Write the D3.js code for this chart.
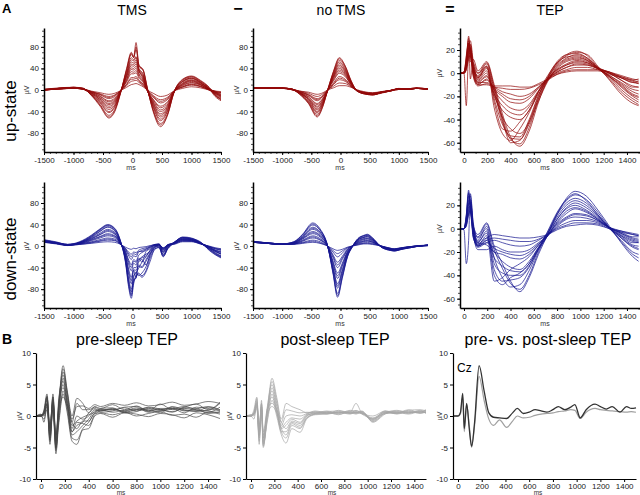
<!DOCTYPE html>
<html><head><meta charset="utf-8">
<script src="https://cdn.jsdelivr.net/npm/d3@7"></script>
<style>body{margin:0;background:#fff}svg{display:block;font-family:"Liberation Sans",Arial,sans-serif}</style>
</head><body><svg id="c" width="640" height="495"></svg>
<script>
// ---------- DATA ----------
// A: up-state, TMS (ms, µV)
const tmsUpTimes = [-1500,-1250,-1000,-850,-700,-550,-400,-300,-200,-100,-20,20,60,110,180,250,350,475,600,700,850,1000,1150,1300,1400,1500];
const tmsUpTraces = [
 [0,3,5,4,-10,-30,-52,-40,-5,40,70,62,88,45,38,5,-40,-68,-45,-5,20,26,18,5,-10,-18],
 [1,4,5,3,-9,-27,-47,-36,-4,36,66,60,75,44,36,3,-36,-62,-42,-6,18,24,16,4,-8,-15],
 [0,3,4,3,-8,-24,-42,-32,-3,32,60,56,62,40,30,2,-32,-57,-38,-4,16,22,15,2,-12,-20],
 [1,3,5,2,-7,-20,-36,-28,-3,28,52,50,56,36,26,1,-28,-50,-34,-4,15,21,14,1,-6,-12],
 [0,2,4,2,-6,-17,-30,-23,-2,24,45,44,48,34,22,0,-24,-44,-30,-5,12,18,12,3,-4,-10],
 [1,3,4,3,-5,-14,-25,-19,-2,19,38,37,40,28,18,-1,-20,-37,-26,-4,10,16,10,0,-7,-14],
 [0,2,3,2,-4,-11,-20,-15,-1,15,30,30,32,22,14,-1,-17,-30,-21,-3,8,13,9,1,-3,-8],
 [0,2,4,2,-3,-9,-16,-12,-1,11,23,23,25,18,11,-1,-13,-24,-17,-3,6,11,7,0,-4,-6],
 [1,2,3,2,-3,-7,-12,-9,-1,8,16,17,18,14,8,0,-10,-18,-13,-2,5,9,6,1,-2,-5],
 [0,2,3,2,-2,-5,-8,-6,-1,5,10,11,12,10,6,0,-6,-12,-9,-2,3,6,4,0,-2,-3],
 [0,3,4,3,-9,-28,-50,-38,-4,38,68,60,80,46,37,4,-38,-65,-44,-5,19,25,17,4,-9,-17],
 [1,3,5,3,-8,-22,-40,-30,-3,30,56,54,60,38,28,1,-30,-54,-36,-4,16,22,14,2,-10,-17],
 [0,2,4,2,-6,-18,-33,-25,-2,26,48,47,52,35,24,0,-26,-47,-32,-5,13,19,13,2,-5,-11],
 [1,3,4,2,-5,-15,-27,-21,-2,21,41,40,44,30,20,-1,-22,-40,-28,-4,11,17,11,1,-6,-12],
 [0,2,3,2,-4,-12,-22,-17,-1,17,34,33,36,25,16,-1,-18,-33,-23,-3,9,14,10,1,-4,-9],
 [0,2,3,2,-3,-8,-14,-10,-1,10,20,20,22,16,10,0,-12,-21,-15,-2,6,10,7,0,-3,-5]
];
// A: up-state, no TMS
const noTmsUpTimes = [-1500,-1250,-1000,-850,-700,-550,-400,-300,-220,-120,-20,80,180,270,400,550,700,850,1000,1150,1300,1500];
const noTmsUpTraces = [
 [3,4,3,2,-8,-25,-50,-30,0,35,60,45,18,0,-7,-9,-5,-2,2,1,3,1],
 [4,3,4,2,-7,-23,-45,-27,0,32,55,42,16,0,-6,-8,-5,-1,3,2,4,2],
 [3,3,3,1,-6,-20,-40,-24,-1,28,49,37,14,-1,-7,-9,-6,-2,2,2,3,1],
 [3,4,4,2,-5,-17,-35,-21,-1,25,43,33,13,0,-6,-8,-4,-1,2,1,3,2],
 [4,3,3,2,-5,-15,-30,-18,-1,21,37,29,11,0,-5,-8,-5,-2,1,2,4,1],
 [3,3,3,1,-4,-12,-25,-15,0,17,31,25,10,0,-6,-7,-4,-1,2,1,3,2],
 [3,4,3,2,-3,-10,-20,-12,-1,13,25,20,8,-1,-5,-7,-4,-2,2,2,3,1],
 [4,3,4,2,-3,-8,-16,-10,0,10,19,16,7,0,-5,-6,-4,-1,1,1,3,2],
 [3,3,3,1,-2,-6,-12,-7,0,7,13,12,6,0,-4,-6,-3,-1,2,2,3,1],
 [3,3,3,2,-2,-4,-8,-5,0,4,8,8,5,1,-3,-5,-3,-1,2,1,3,1],
 [4,4,3,2,-8,-24,-48,-29,0,34,58,44,17,0,-7,-9,-5,-2,2,1,3,1],
 [3,3,4,2,-6,-21,-42,-25,-1,30,52,39,15,0,-6,-8,-5,-1,2,2,4,2],
 [4,3,3,1,-5,-18,-37,-22,0,26,46,35,14,-1,-6,-9,-5,-2,2,1,3,1],
 [3,4,3,2,-5,-16,-32,-19,-1,23,40,31,12,0,-5,-8,-4,-1,1,2,3,2],
 [3,3,3,2,-4,-13,-27,-16,0,19,34,27,10,0,-5,-7,-4,-1,2,1,3,1],
 [4,3,4,1,-3,-9,-18,-11,0,11,22,18,8,0,-4,-6,-4,-1,2,2,3,2]
];
// A: up-state, TEP
const tepUpTimes = [-30,0,20,40,55,80,120,195,260,330,400,480,560,640,720,800,880,970,1060,1150,1250,1350,1450,1500];
const tepUpTraces = [
 [0,0,15,28,-5,12,2,10,-10,-35,-55,-63,-50,-25,-5,8,15,18,16,6,-6,-18,-26,-28],
 [0,1,10,32,20,5,-2,8,-14,-40,-60,-58,-42,-20,-3,10,16,17,13,4,-4,-14,-22,-25],
 [0,0,12,22,25,8,0,6,-30,-52,-58,-48,-34,-16,-2,9,14,15,12,5,-3,-10,-18,-20],
 [0,0,-28,20,28,10,-4,4,-18,-38,-48,-52,-42,-22,-6,6,12,14,11,4,-2,-8,-14,-15],
 [0,1,8,25,22,4,-5,2,-25,-48,-50,-42,-32,-18,-6,4,10,12,10,5,0,-6,-12,-12],
 [0,0,5,18,20,6,-6,0,-20,-32,-38,-40,-32,-16,-5,3,8,11,9,4,-2,-9,-16,-18],
 [0,0,10,30,15,3,-8,-3,-15,-24,-30,-32,-27,-15,-4,3,7,9,8,4,0,-4,-8,-7],
 [0,1,6,20,24,2,-10,-5,-14,-20,-25,-26,-22,-13,-5,1,5,7,7,4,1,-3,-6,-5],
 [0,0,4,15,18,0,-8,-8,-12,-16,-18,-20,-18,-12,-5,0,3,5,5,3,1,-2,-5,-6],
 [0,0,3,12,16,-2,-10,-10,-12,-13,-14,-14,-13,-10,-6,-1,2,3,3,3,0,-3,-6,-8],
 [0,0,14,26,10,9,0,9,-12,-38,-57,-61,-47,-22,-4,9,16,19,15,5,-5,-16,-24,-27],
 [0,1,9,24,20,6,-3,5,-22,-44,-54,-55,-40,-19,-4,7,13,16,13,5,-3,-12,-20,-23],
 [0,0,7,22,18,2,-7,-2,-18,-28,-34,-36,-29,-16,-5,2,7,10,9,4,0,-6,-11,-12],
 [0,0,5,17,22,-1,-9,-6,-13,-18,-22,-23,-20,-12,-5,1,5,8,7,4,1,-4,-8,-9],
 [0,0,3,14,15,-3,-11,-9,-11,-11,-11,-12,-12,-9,-5,-1,1,2,2,2,-1,-4,-7,-9],
 [0,1,8,26,17,4,-4,6,-16,-42,-56,-57,-44,-24,-7,5,11,13,11,4,-3,-11,-19,-21]
];
// A: down-state, TMS
const tmsDownTimes = [-1500,-1300,-1100,-900,-700,-550,-420,-300,-200,-120,-60,-20,20,60,100,160,230,300,380,450,520,600,700,850,1000,1150,1300,1400,1500];
const tmsDownTraces = [
 [12,8,3,8,20,32,40,33,8,-30,-80,-97,-70,-55,-52,-58,-48,-28,-5,-3,-18,-5,5,16,14,8,-8,-16,-22],
 [10,6,2,7,18,30,38,31,7,-26,-72,-90,-62,-60,-35,-38,-25,-12,0,-2,-20,-3,6,17,15,6,-6,-14,-20],
 [9,6,2,6,16,27,35,28,6,-22,-64,-80,-55,-50,-42,-30,-20,-8,2,0,-15,-2,7,15,13,7,-5,-12,-18],
 [11,7,3,6,15,24,31,25,5,-18,-55,-70,-45,-58,-30,-25,-35,-15,-2,2,-12,0,6,14,12,5,-4,-10,-15],
 [8,5,1,5,13,21,27,22,5,-15,-45,-58,-40,-40,-28,-20,-15,-10,0,3,-10,1,5,13,12,6,-3,-9,-14],
 [10,6,3,5,12,18,23,19,4,-12,-36,-46,-32,-35,-22,-30,-10,-5,3,3,-8,2,6,12,11,6,-2,-8,-12],
 [7,5,2,4,10,15,19,16,4,-9,-27,-35,-25,-28,-18,-12,-8,-3,2,4,-6,2,5,11,10,5,-2,-7,-10],
 [9,6,2,4,8,12,15,13,4,-6,-19,-25,-18,-20,-12,-8,-5,-1,3,4,-5,3,5,10,10,5,-1,-5,-8],
 [8,5,2,3,6,9,11,10,3,-4,-12,-15,-11,-12,-8,-5,-3,0,3,3,-4,2,4,9,9,4,-1,-4,-6],
 [7,4,1,3,5,7,8,7,3,-2,-5,-6,-4,-5,-3,-2,-1,1,2,2,-3,2,3,8,8,4,0,-3,-5],
 [11,7,3,7,19,31,39,32,8,-28,-76,-93,-66,-58,-50,-55,-45,-22,-6,-2,-19,-4,6,16,14,7,-7,-15,-21],
 [9,6,2,6,17,28,36,29,7,-24,-68,-85,-58,-48,-55,-50,-38,-18,-3,0,-16,-3,6,15,13,6,-5,-13,-19],
 [10,6,3,6,14,22,29,23,5,-17,-50,-64,-44,-45,-38,-40,-28,-14,-2,2,-11,0,5,13,12,6,-4,-10,-15],
 [8,5,2,5,11,17,21,18,4,-10,-31,-40,-28,-30,-25,-22,-18,-8,1,3,-7,1,5,12,11,5,-2,-8,-11],
 [9,5,2,4,7,10,13,11,3,-5,-15,-20,-14,-16,-10,-10,-6,-2,2,3,-4,2,4,10,9,5,-1,-5,-7]
];
// A: down-state, no TMS
const noTmsDownTimes = [-1500,-1250,-1000,-800,-650,-475,-350,-220,-130,-50,30,120,200,300,400,460,550,700,850,920,1050,1200,1350,1500];
const noTmsDownTraces = [
 [8,6,4,8,22,43,32,0,-50,-95,-60,-20,-2,14,20,22,15,-2,-8,-9,-6,-3,0,1],
 [7,5,3,7,20,39,29,0,-46,-88,-55,-18,-1,13,19,20,14,-2,-7,-9,-6,-2,0,2],
 [9,6,4,7,18,35,26,-1,-42,-78,-50,-16,-2,12,17,19,13,-1,-7,-8,-5,-3,0,1],
 [7,5,3,6,16,31,23,0,-37,-70,-44,-14,-1,11,16,17,12,-1,-6,-8,-5,-2,0,2],
 [8,6,4,6,15,27,20,-1,-32,-60,-38,-12,-1,10,14,15,11,-2,-6,-7,-5,-2,0,1],
 [7,5,3,5,13,23,17,0,-27,-50,-32,-10,-1,8,12,13,9,-1,-6,-7,-4,-1,1,2],
 [8,6,4,5,11,19,14,0,-21,-40,-25,-8,0,7,10,11,8,-1,-5,-7,-4,-2,0,1],
 [7,5,3,4,9,15,11,0,-16,-30,-19,-6,0,5,8,9,7,0,-5,-6,-4,-1,0,2],
 [8,5,3,4,7,11,8,0,-11,-20,-13,-4,0,4,6,7,5,0,-4,-6,-3,-1,1,1],
 [7,5,3,3,5,7,5,0,-5,-8,-6,-2,0,2,4,4,3,0,-4,-5,-3,-1,0,2],
 [8,6,4,8,21,41,30,0,-48,-92,-58,-19,-2,14,19,21,15,-2,-8,-9,-6,-3,0,1],
 [7,5,3,6,17,33,25,0,-40,-74,-47,-15,-1,12,16,18,12,-1,-7,-8,-5,-2,0,2],
 [8,6,4,5,14,25,19,0,-30,-55,-35,-11,-1,9,13,14,10,-1,-6,-7,-5,-2,1,1],
 [7,5,3,4,10,17,12,0,-18,-35,-22,-7,0,6,9,10,7,0,-5,-6,-4,-1,0,2],
 [8,5,3,4,6,9,6,0,-8,-14,-9,-3,0,3,5,5,4,0,-4,-5,-3,-1,0,1]
];
// A: down-state, TEP
const tepDownTimes = [-30,0,20,40,55,80,120,195,260,330,400,480,560,640,720,800,880,955,1050,1150,1250,1350,1450,1500];
const tepDownTraces = [
 [0,0,10,30,20,2,-5,5,-15,-30,-45,-54,-42,-22,-5,12,26,32,28,16,2,-12,-24,-28],
 [0,0,12,33,18,0,-10,2,-25,-42,-50,-48,-36,-18,-2,14,25,30,24,12,0,-10,-20,-22],
 [0,0,8,25,28,3,-12,-2,-40,-48,-42,-38,-30,-16,-3,12,22,26,22,12,1,-8,-16,-18],
 [0,-1,-30,-10,30,5,-8,0,-30,-38,-40,-40,-32,-18,-6,8,18,22,18,10,0,-7,-14,-15],
 [0,0,6,22,25,0,-14,-6,-45,-42,-35,-30,-24,-14,-4,8,17,20,16,9,1,-6,-12,-12],
 [0,0,5,20,22,-2,-15,-10,-20,-28,-33,-35,-28,-16,-6,5,13,17,14,8,1,-5,-10,-11],
 [0,0,9,28,15,-4,-12,-14,-20,-22,-25,-26,-22,-14,-5,4,10,13,12,7,1,-4,-8,-9],
 [0,0,4,16,20,-5,-18,-18,-15,-18,-20,-20,-18,-12,-6,2,8,10,9,6,1,-3,-7,-7],
 [0,0,3,14,18,-6,-16,-12,-10,-12,-14,-15,-14,-10,-5,1,5,7,7,5,1,-2,-5,-6],
 [0,0,2,12,15,-8,-14,-8,-5,-6,-7,-8,-8,-7,-5,-1,2,3,4,3,0,-2,-4,-5],
 [0,0,11,31,19,1,-7,4,-18,-34,-47,-52,-40,-20,-4,13,24,29,25,14,1,-11,-22,-25],
 [0,0,7,24,24,2,-11,-4,-35,-45,-44,-42,-33,-17,-4,10,20,24,20,11,1,-8,-15,-17],
 [0,0,6,21,23,-1,-13,-8,-25,-32,-36,-37,-30,-17,-6,6,15,18,15,8,0,-6,-11,-12],
 [0,0,5,18,19,-4,-15,-12,-17,-20,-22,-23,-20,-13,-6,3,9,12,11,7,1,-4,-9,-10],
 [0,0,3,13,16,-7,-15,-10,-8,-9,-10,-11,-11,-9,-5,0,3,5,5,4,0,-3,-5,-6]
];
// B: pre-sleep TEP
const preTimes = [-40,0,25,50,75,100,125,150,185,220,260,300,350,400,450,500,600,700,800,900,1000,1100,1200,1300,1400,1500];
const preTraces = [
 [0,0,1,3.5,-2,3,-5,2,8,4,0,2.8,2,0.5,1.5,1.2,1.8,1,1.6,0.8,1.9,1,1.4,1.9,1,2.2],
 [0,0.3,-1,2,-4.5,2,-6,1,7,3.5,-1,2,1,1,1.4,1,1,1.3,0.8,1.2,0.9,1.4,0.8,1.1,1.5,1],
 [0,0,0.5,3,-3,3.5,-4,2.5,6.5,3,-2,0,-0.5,0,1,0.8,1.2,0.6,1,1.3,1,0.7,1.2,0.9,0.6,1.4],
 [0,0,0.5,2.5,-3.5,1.5,-5,0,6,2,-2.5,-1.5,-1,0.5,1.2,0.6,0.8,1.4,1.5,0.7,1.2,1.2,0.5,1.4,1.2,0.8],
 [0,0.2,0,1.5,-2.5,2.5,-4.5,1.5,5,1.5,-3,-2.5,-1.5,-0.5,0.8,1,0.6,0.9,1.1,1,0.5,1.5,1,0.8,0.9,2],
 [0,0,0.8,3,-1.5,2,-3.5,3,5.5,2.5,-1.5,-0.8,-0.2,0.2,0.6,1.2,1.3,0.5,0.7,1.4,1.1,0.6,1.3,1.2,0.4,0.7],
 [0,0,-0.5,1,-3,1,-4,-0.5,4,1,-3.5,-3.8,-2,-1,0.4,0.5,0.2,0.6,0,0.4,0.7,0.1,0.3,-0.2,0.6,0.3],
 [0,0.2,0.3,2,-2,3,-3,2,4.5,2,-2.5,-1,-1.2,-1.5,0.2,0.8,1,0.8,1.3,0.6,0.8,1.1,1.5,1,0.8,0.5],
 [0,0,0.2,2.8,-4,1,-5.5,-1,3.5,0.5,-4,-4.5,-2.2,-2,0,0.4,-0.2,0.5,0.3,-0.1,0.4,0.2,-0.3,0.5,0.2,-0.4],
 [0,0,0.4,1.8,-1.8,2.2,-3,1,3,1.5,-1,-2,-0.8,-0.8,0.5,0.9,1.1,0.7,1,0.9,1,1.2,0.9,0.7,1.4,0.9],
 [0,0.1,0.6,3.2,-3.8,2.6,-5.2,1.8,7.5,3.8,-0.5,1.5,1.6,1.2,1.8,1.5,2,1.7,2.1,1.6,1.8,2.2,1.7,1.9,2.3,2]
];
// B: post-sleep TEP
const postTimes = [-40,0,25,50,70,90,105,140,180,220,260,300,350,420,480,550,650,750,850,900,950,1045,1150,1250,1350,1450,1500];
const postTraces = [
 [0,0,1,3,-3,2,-4.5,1,6,3,-0.5,2,1.5,1,0.5,0.8,0.5,0.7,0.6,2,0.5,0,0.8,0.6,0.9,1,0.8],
 [0,0.2,0.5,2.5,-4.5,1.5,-5,0.5,5.5,2.5,-1,1,0.8,0.5,0.6,0.5,0.8,0.4,0.9,0.8,0.7,-0.8,0.5,0.9,0.6,0.7,1],
 [0,0,-0.5,2,-3.5,2.5,-4,1.5,5,2,-1.5,0,0.2,0,0.4,0.7,0.3,0.9,0.5,0.6,0.4,-0.5,0.7,0.4,1,0.5,0.6],
 [0,0,0.5,1.5,-4,1,-4.8,0,4.5,1.5,-2,-1.5,-0.5,-1,0.2,0.4,0.6,0.5,0.7,0.5,0.8,-1,0.3,0.8,0.5,0.9,0.4],
 [0,0.1,0.3,2.8,-2.5,2,-3.5,1,4,1,-2.5,-2.5,-1,-1.5,0,0.5,0.4,0.6,0.3,0.7,0.5,-0.6,0.6,0.5,0.7,0.6,0.9],
 [0,0,0.2,1.8,-3,1.2,-4.2,-0.5,3.5,0.5,-2.5,-3.5,-1.5,-2,-0.2,0.3,0.5,0.3,0.6,0.4,0.6,-0.9,0.4,0.7,0.4,0.8,0.5],
 [0,0,0.6,2.2,-2,1.8,-3,0.8,3,0.8,-1.8,-1,-0.3,-0.5,0.3,0.6,0.7,0.8,0.4,0.9,0.3,-0.4,0.8,0.3,0.8,0.4,0.7],
 [0,0.2,0,1.2,-3.2,0.8,-4.5,-0.8,2.5,0,-3,-4.3,-2,-2.6,-0.4,0.2,0.3,0.5,0.5,0.3,0.7,-0.7,0.5,0.6,0.3,0.7,0.6],
 [0,0,0.4,2,-1.5,1.5,-2.5,1.2,2,1,-1,-2,-0.8,-1.2,0.1,0.4,0.6,0.2,0.8,0.6,0.4,-0.3,0.6,0.5,0.6,0.5,0.8],
 [0,0,0.3,1.5,-2.2,1,-3.5,0.2,1.5,0.5,-2,-3,-1.2,-1.8,-0.3,0.3,0.4,0.6,0.4,0.5,0.5,-0.5,0.4,0.4,0.5,0.6,0.5]
];
// B: pre vs post at Cz
const czTimes = [-40,0,20,40,53,73,95,115,140,178,220,260,300,350,410,460,500,550,600,650,700,750,800,845,900,950,985,1030,1080,1155,1200,1250,1300,1365,1420,1460,1500];
const czPost = [0,0,0.3,3,-2.5,1.8,-1.5,-5,-1.5,6.3,2.5,-0.5,-1.5,-0.6,-1.8,-0.8,0,-0.3,-0.2,0.1,0.3,0.4,0.5,0.7,0.8,1,0.9,-0.4,0.6,1.2,1,0.9,0.8,0.7,0.6,0.7,0.6];
const czPre  = [0,0,0.5,3.6,-2,2,-2,-4.8,-1,8,4,0.5,-0.2,-0.3,-0.4,0.5,1.2,0.4,0.6,1,0.8,0.6,1,1.5,1,1.4,1.8,-0.3,1,1.9,1.5,1.1,1.5,0.6,1.5,1.2,1.3];

// tick labels
const xTicksA = [-1500,-1000,-500,0,500,1000,1500];
const yTicksA = [-80,-40,0,40,80];
const xTicksTEP = [0,200,400,600,800,1000,1200,1400];
const yTicksTEP = [-60,-40,-20,0,20];
const yTicksB = [-10,-5,0,5,10];

// ---------- DRAW ----------
const svg = d3.select("#c");
const FONT = '"Liberation Sans",Arial,sans-serif';
const RED = "#920a0a", BLUE = "#161690", DGRAY = "#464646", LGRAY = "#a6a6a6";
const rng = (a,b,s)=>d3.range(a,b+s/2,s);
const fmt = d=>String(d);

function drawPanel(p){
  const x = d3.scaleLinear().domain(p.xd).range([p.left,p.right]);
  const y = d3.scaleLinear().domain(p.yd).range([p.bottom,p.top]);
  const g = svg.append("g");
  p.series.forEach(s=>{
    const line = d3.line().x((d,i)=>x(s.times[i])).y(d=>y(d)).curve(d3.curveMonotoneX);
    g.append("g").selectAll("path").data(s.traces).join("path")
      .attr("d",line).attr("fill","none").attr("stroke",s.color)
      .attr("stroke-width",s.w).attr("stroke-opacity",s.op).attr("stroke-linejoin","round");
  });
  if(p.yMinor){
    g.append("g").attr("transform",`translate(${p.left},0)`)
     .call(d3.axisLeft(y).tickValues(p.yMinor).tickSize(2).tickFormat(""))
     .call(a=>a.select(".domain").remove()).selectAll("line").attr("stroke","#000").attr("stroke-width",0.7);
  }
  if(p.xMinor){
    g.append("g").attr("transform",`translate(0,${p.bottom})`)
     .call(d3.axisBottom(x).tickValues(p.xMinor).tickSize(2).tickFormat(""))
     .call(a=>a.select(".domain").remove()).selectAll("line").attr("stroke","#000").attr("stroke-width",0.7);
  }
  const gy = g.append("g").attr("transform",`translate(${p.left},0)`)
    .call(d3.axisLeft(y).tickValues(p.yTicks).tickFormat(fmt).tickSize(3).tickSizeOuter(0).tickPadding(2));
  const gx = g.append("g").attr("transform",`translate(0,${p.bottom})`)
    .call(d3.axisBottom(x).tickValues(p.xTicks).tickFormat(fmt).tickSize(3).tickSizeOuter(0).tickPadding(p.xpad||2));
  [gy,gx].forEach(a=>{
    a.attr("font-family",FONT).attr("font-size",8);
    a.select(".domain").attr("stroke-width",p.aw);
    a.selectAll("text").attr("fill","#222");
  });
  g.append("text").attr("transform",`translate(${p.uvX},${y(0)}) rotate(-90)`)
   .attr("text-anchor","middle").attr("font-size",7).attr("fill","#333").text("µV");
  g.append("text").attr("x",p.msX).attr("y",p.msY).attr("text-anchor","middle")
   .attr("font-size",p.msF||7).attr("fill","#333").text("ms");
}

const redS = t=>({times:t[0],traces:t[1],color:RED,w:0.8,op:0.9});
const blueS = t=>({times:t[0],traces:t[1],color:BLUE,w:0.8,op:0.9});

const panels = [
 {xd:[-1500,1500],yd:[-115,115],left:44,right:221,top:28,bottom:152,xTicks:xTicksA,yTicks:yTicksA,
  xMinor:rng(-1500,1500,100),yMinor:rng(-110,110,10),aw:1.5,uvX:29,msX:131,msY:170,
  series:[redS([tmsUpTimes,tmsUpTraces])]},
 {xd:[-1500,1500],yd:[-115,115],left:253,right:428,top:28,bottom:152,xTicks:xTicksA,yTicks:yTicksA,
  xMinor:rng(-1500,1500,100),yMinor:rng(-110,110,10),aw:1.5,uvX:239,msX:340,msY:170,
  series:[redS([noTmsUpTimes,noTmsUpTraces])]},
 {xd:[-34,1512],yd:[-68,39],left:460,right:640,top:28,bottom:152,xTicks:xTicksTEP,yTicks:yTicksTEP,
  xMinor:rng(100,1500,200),yMinor:rng(-65,35,5),aw:1.5,uvX:442,msX:545,msY:170,
  series:[redS([tepUpTimes,tepUpTraces])]},
 {xd:[-1500,1500],yd:[-115,119],left:44,right:221,top:182,bottom:308,xTicks:xTicksA,yTicks:yTicksA,
  xMinor:rng(-1500,1500,100),yMinor:rng(-110,110,10),aw:1.5,uvX:29,msX:131,msY:326,
  series:[blueS([tmsDownTimes,tmsDownTraces])]},
 {xd:[-1500,1500],yd:[-115,119],left:253,right:428,top:182,bottom:308,xTicks:xTicksA,yTicks:yTicksA,
  xMinor:rng(-1500,1500,100),yMinor:rng(-110,110,10),aw:1.5,uvX:239,msX:340,msY:326,
  series:[blueS([noTmsDownTimes,noTmsDownTraces])]},
 {xd:[-34,1512],yd:[-68,40],left:460,right:640,top:182,bottom:308,xTicks:xTicksTEP,yTicks:yTicksTEP,
  xMinor:rng(100,1500,200),yMinor:rng(-65,35,5),aw:1.5,uvX:442,msX:545,msY:326,
  series:[blueS([tepDownTimes,tepDownTraces])]},
 {xd:[-42,1500],yd:[-10,10],left:36,right:220,top:353,bottom:479,xTicks:xTicksTEP,yTicks:yTicksB,
  aw:1.2,uvX:22,msX:121,msY:495,msF:6.5,xpad:1,
  series:[{times:preTimes,traces:preTraces,color:DGRAY,w:0.75,op:0.9}]},
 {xd:[-43,1500],yd:[-10,10],left:246,right:426,top:353,bottom:479,xTicks:xTicksTEP,yTicks:yTicksB,
  aw:1.2,uvX:232,msX:332,msY:495,msF:6.5,xpad:1,
  series:[{times:postTimes,traces:postTraces,color:LGRAY,w:0.75,op:0.95}]},
 {xd:[-42,1500],yd:[-10,10],left:453,right:636,top:353,bottom:479,xTicks:xTicksTEP,yTicks:yTicksB,
  aw:1.2,uvX:442,msX:538,msY:495,msF:6.5,xpad:1,
  series:[{times:czTimes,traces:[czPost],color:"#a0a0a0",w:1.2,op:1},
          {times:czTimes,traces:[czPre],color:"#333",w:1.3,op:1}]}
];
panels.forEach(drawPanel);

// ---------- TEXT ----------
const txt = (x,y,s,size,opt={})=>{
  const t = svg.append("text").attr("x",x).attr("y",y).attr("font-size",size)
    .attr("text-anchor",opt.anchor||"middle").attr("font-weight",opt.bold?"bold":"normal")
    .attr("fill","#000").text(s);
  if(opt.rot) t.attr("transform",`rotate(-90,${x},${y})`);
  return t;
};
txt(2,13,"A",13,{anchor:"start",bold:true});
txt(132,15,"TMS",14);
txt(238,14,"−",16,{bold:true});
txt(341,15,"no TMS",14);
txt(450,15,"=",16,{bold:true});
txt(550,15,"TEP",14);
txt(16,111,"up-state",17,{rot:true});
txt(16,259,"down-state",17,{rot:true});
txt(2,344,"B",14,{anchor:"start",bold:true});
txt(127,345,"pre-sleep TEP",16);
txt(335,345,"post-sleep TEP",16);
txt(548,345,"pre- vs. post-sleep TEP",16);
txt(457,372,"Cz",12,{anchor:"start"});
</script></body></html>
